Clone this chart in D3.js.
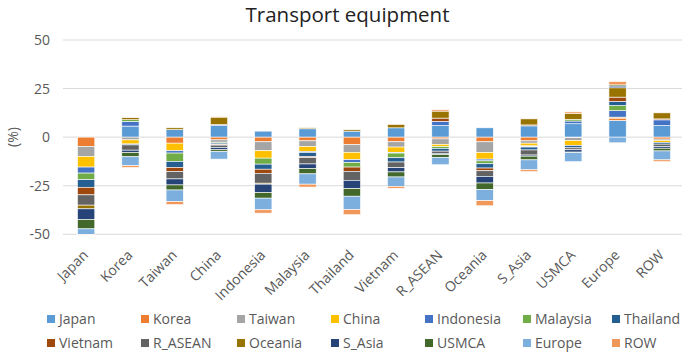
<!DOCTYPE html>
<html><head><meta charset="utf-8">
<script src="https://cdn.jsdelivr.net/npm/d3@7"></script>
<style>html,body{margin:0;padding:0;background:#fff}svg{display:block}</style>
</head><body>
<svg id="chart" width="685" height="355"></svg>
<script>
const categories = ["Japan","Korea","Taiwan","China","Indonesia","Malaysia","Thailand","Vietnam","R_ASEAN","Oceania","S_Asia","USMCA","Europe","ROW"];
const seriesNames = ["Japan","Korea","Taiwan","China","Indonesia","Malaysia","Thailand","Vietnam","R_ASEAN","Oceania","S_Asia","USMCA","Europe","ROW"];
const seriesColors = ["#5B9BD5","#ED7D31","#A5A5A5","#FFC000","#4472C4","#70AD47","#255E91","#9E480E","#636363","#997300","#264478","#43682B","#7CAFDD","#F1975A"];
const yTicks = [50,25,0,-25,-50];
// values per series (one entry per category, same order as categories)
const Japan     = [ 0.0, 5.7, 3.9, 6.0, 3.1, 4.3, 3.1, 4.8, 6.0, 4.8, 5.8, 6.9, 8.6, 6.0];
const Korea     = [-4.8, 0.0,-3.1,-1.4,-2.4,-1.9,-3.9,-2.4,-0.9,-2.4,-1.9,-0.3, 1.2,-1.0];
const Taiwan    = [-5.1,-1.4, 0.0,-1.2,-4.6,-2.9,-3.9,-2.7,-2.8,-5.5,-1.2,-1.4, 0.0,-0.7];
const China     = [-5.5,-2.1,-3.9, 0.0,-3.8,-2.6,-3.8,-2.7,-1.2,-3.4,-1.4,-2.6, 0.5,-1.0];
const Indonesia = [-3.1, 2.4,-1.2, 0.5, 0.0,-0.5,-1.4,-0.4, 2.1,-0.9,-0.3, 1.4, 3.4, 2.9];
const Malaysia  = [-3.4, 0.9,-4.3,-0.5,-3.1, 0.0,-2.4,-2.4,-0.9,-1.5,-0.3, 0.9, 2.6, 0.0];
const Thailand  = [-3.9,-0.5,-3.1,-0.6,-2.6,-2.1, 0.0,-2.2,-1.4,-2.2,-1.5,-1.2, 2.1,-0.9];
const Vietnam   = [-3.9, 0.0,-2.1,-0.4,-2.1,-0.5,-2.2, 0.0, 1.7,-1.4, 0.5, 0.0, 2.2, 0.5];
const R_ASEAN   = [-5.3,-2.7,-3.8,-1.2,-5.1,-3.3,-4.6,-2.9,-1.2,-2.9,-2.6,-1.0, 0.0,-1.2];
const Oceania   = [-1.9, 1.0, 0.9, 3.8,-0.5, 0.5, 0.7, 1.7, 3.6, 0.0, 3.1, 3.1, 4.8, 3.1];
const S_Asia    = [-5.5,-1.2,-3.1,-1.2,-4.3,-2.4,-4.3,-2.2,-0.6,-3.4,-0.6,-1.2, 0.9,-0.9];
const USMCA     = [-4.8,-2.2,-2.6,-1.0,-2.9,-2.7,-3.9,-2.6,-1.4,-3.4,-1.9,-0.3, 0.6,-1.4];
const Europe    = [-2.9,-4.6,-6.0,-3.8,-6.0,-5.3,-6.9,-4.8,-3.8,-5.7,-5.1,-4.6,-2.9,-4.6];
const ROW       = [-0.3,-0.9,-1.5, 0.3,-1.7,-1.5,-2.6,-1.0, 0.7,-2.6,-0.9, 0.7, 1.7,-0.9];
const seriesValues = [Japan,Korea,Taiwan,China,Indonesia,Malaysia,Thailand,Vietnam,R_ASEAN,Oceania,S_Asia,USMCA,Europe,ROW];

const table = categories.map((c, i) => {
  const row = {category: c};
  seriesNames.forEach((s, j) => row[s] = seriesValues[j][i]);
  return row;
});

const svg = d3.select("#chart");
const font = "'Open Sans', 'Noto Sans', sans-serif";
const textColor = "#595959";

const x = d3.scaleBand().domain(categories).range([64, 684]).paddingInner(0.61).paddingOuter(0.305);
const y = d3.scaleLinear().domain([-50, 50]).range([234.3, 40]);

// gridlines
svg.append("g").selectAll("line").data(yTicks).join("line")
  .attr("x1", 63).attr("x2", 682)
  .attr("y1", d => y(d)).attr("y2", d => y(d))
  .attr("stroke", "#d9d9d9").attr("stroke-width", 1);

// y axis labels
const yAxis = d3.axisLeft(y).tickValues(yTicks).tickSize(0).tickPadding(0);
const yg = svg.append("g").attr("transform", "translate(50,0)").call(yAxis);
yg.select(".domain").remove();
yg.selectAll("text").attr("font-family", font).attr("font-size", 14).attr("fill", textColor)
  .text(d => d < 0 ? "-" + Math.abs(d) : d);

// stacked bars
const stack = d3.stack().keys(seriesNames).order(d3.stackOrderNone).offset(d3.stackOffsetDiverging);
const stacked = stack(table);
svg.append("g").selectAll("g").data(stacked).join("g")
  .attr("fill", (d, i) => seriesColors[i])
  .selectAll("rect").data(d => d).join("rect")
  .attr("x", d => x(d.data.category))
  .attr("width", x.bandwidth())
  .attr("y", d => y(Math.max(d[0], d[1])))
  .attr("height", d => Math.abs(y(d[0]) - y(d[1])))
  .attr("stroke", "#fff").attr("stroke-width", 0.6);

// x axis labels
const xAxis = d3.axisBottom(x).tickSize(0).tickPadding(0);
const xg = svg.append("g").call(xAxis);
xg.select(".domain").remove();
xg.selectAll(".tick").attr("transform", d => `translate(${x(d) + x.bandwidth()/2 + 3},256)`);
xg.selectAll("text").attr("font-family", font).attr("font-size", 14).attr("fill", textColor)
  .attr("text-anchor", "end").attr("dy", 0).attr("y", 0).attr("transform", "rotate(-45)");

// y axis title
svg.append("text").attr("transform", "translate(18,137) rotate(-90)")
  .attr("text-anchor", "middle").attr("font-family", font).attr("font-size", 14)
  .attr("fill", textColor).text("(%)");

// title
svg.append("text").attr("x", 347.5).attr("y", 22).attr("text-anchor", "middle")
  .attr("font-family", font).attr("font-size", 20.5).attr("fill", "#222").text("Transport equipment");

// legend
const legendX = [47, 141, 237, 331, 425, 523, 612];
const legendY = [319, 343];
const lg = svg.append("g").selectAll("g").data(seriesNames).join("g")
  .attr("transform", (d, i) => `translate(${legendX[i % 7]},${legendY[Math.floor(i / 7)]})`);
lg.append("rect").attr("x", 0).attr("y", -4).attr("width", 8).attr("height", 8)
  .attr("fill", (d, i) => seriesColors[i]);
lg.append("text").attr("x", 12).attr("y", 5).attr("font-family", font).attr("font-size", 14)
  .attr("fill", textColor).text(d => d);
</script>
</body></html>
